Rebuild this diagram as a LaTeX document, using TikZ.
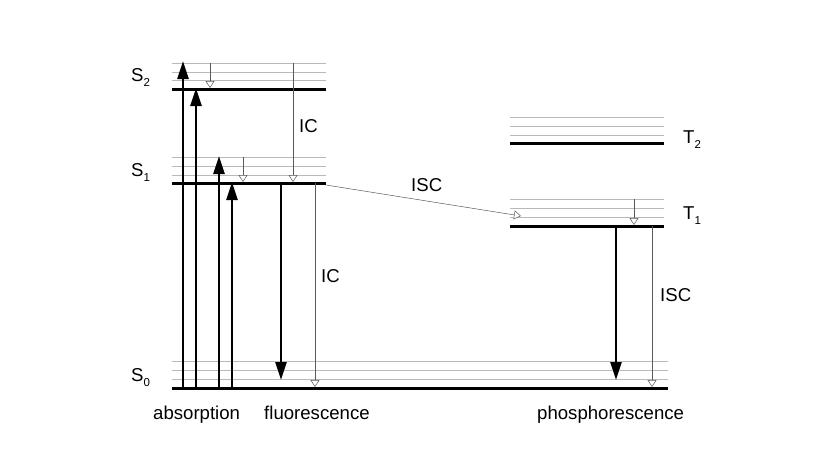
\documentclass[tikz,border=0pt]{standalone}
\usepackage{fontspec}
\setmainfont{Liberation Sans}
\usetikzlibrary{arrows.meta}
\newcommand{\lvl}[2]{#1\raisebox{-5pt}{\fontsize{11.5}{12}\selectfont #2}}
\begin{document}
\begin{tikzpicture}[x=1pt,y=-1pt,
  level/.style={line width=3pt},
  sub/.style={line width=0.6pt, draw=gray!55},
  rad/.style={line width=2.6pt, -{Triangle[length=18pt,width=11pt]}},
  nonrad/.style={line width=0.5pt, draw=gray!70!black, -{Triangle[open,length=7pt,width=9pt,fill=white]}},
  lab/.style={font=\fontsize{18.6}{21}\selectfont, inner sep=0pt, anchor=base west}]
\useasboundingbox (0,0) rectangle (830,467);
% level lines
\foreach \y in {63,72,80} \draw[sub] (172,\y) -- (326,\y);
\foreach \y in {157,166,175} \draw[sub] (172,\y) -- (326,\y);
\foreach \y in {361,370,379} \draw[sub] (172,\y) -- (668,\y);
\foreach \y in {117,126,135} \draw[sub] (510,\y) -- (664,\y);
\foreach \y in {199,208,217} \draw[sub] (510,\y) -- (664,\y);
\draw[level] (172,89) -- (326,89);
\draw[level] (172,183) -- (326,183);
\draw[level] (172,388) -- (668,388);
\draw[level] (510,143) -- (664,143);
\draw[level] (510,226) -- (664,226);
% coordinates
\coordinate (a1s) at (183,388); \coordinate (a1e) at (183,61);
\coordinate (a2s) at (196,388); \coordinate (a2e) at (196,88);
\coordinate (a3s) at (219,388); \coordinate (a3e) at (219,156);
\coordinate (a4s) at (232,388); \coordinate (a4e) at (232,182);
\coordinate (fs) at (281,184); \coordinate (fe) at (281,380);
\coordinate (ps) at (616,227); \coordinate (pe) at (616,380);
\coordinate (v2s) at (210,63); \coordinate (v2e) at (210,88);
\coordinate (ic1s) at (293,63); \coordinate (ic1e) at (293,182);
\coordinate (v1s) at (243,157); \coordinate (v1e) at (243,182);
\coordinate (ic2s) at (315,183); \coordinate (ic2e) at (315,387);
\coordinate (iscs) at (326,185); \coordinate (isce) at (521,216);
\coordinate (vt1s) at (634,199); \coordinate (vt1e) at (634,225);
\coordinate (isc2s) at (652,226); \coordinate (isc2e) at (652,387);
% radiative
\draw[rad] (a1s) -- (a1e);
\draw[rad] (a2s) -- (a2e);
\draw[rad] (a3s) -- (a3e);
\draw[rad] (a4s) -- (a4e);
\draw[rad] (fs) -- (fe);
\draw[rad] (ps) -- (pe);
% non-radiative
\draw[nonrad] (v2s) -- (v2e);
\draw[nonrad] (ic1s) -- (ic1e);
\draw[nonrad] (v1s) -- (v1e);
\draw[nonrad] (ic2s) -- (ic2e);
\draw[nonrad] (iscs) -- (isce);
\draw[nonrad] (vt1s) -- (vt1e);
\draw[nonrad] (isc2s) -- (isc2e);
% labels
\node[lab] (S2) at (131,81) {\lvl{S}{2}};
\node[lab] (S1) at (131,176) {\lvl{S}{1}};
\node[lab] (S0) at (131,381) {\lvl{S}{0}};
\node[lab] (T2) at (683,143) {\lvl{T}{2}};
\node[lab] (T1) at (683,219) {\lvl{T}{1}};
\node[lab] (IC1) at (299,132) {IC};
\node[lab] (IC2) at (321,282) {IC};
\node[lab] (ISC1) at (411,191) {ISC};
\node[lab] (ISC2) at (660,301) {ISC};
\node[lab] (abs) at (153,419) {absorption};
\node[lab] (flu) at (264,419) {fluorescence};
\node[lab] (pho) at (537,419) {phosphorescence};
\end{tikzpicture}
\end{document}
